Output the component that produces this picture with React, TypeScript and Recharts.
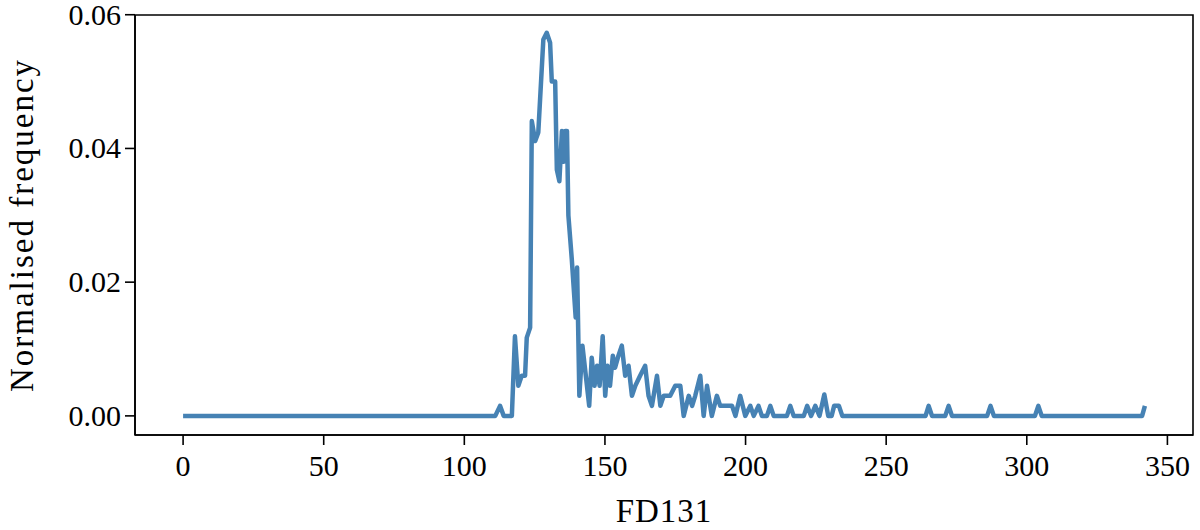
import React from "react";
import {
  LineChart,
  Line,
  XAxis,
  YAxis,
  ReferenceArea,
} from "recharts";

// FD131 bin positions and normalised frequency
const fdValues = [
  0, 111.0, 112.7, 114.0, 116.9, 118.0, 119.2, 120.4, 121.6, 122.2, 123.4,
  124.0, 125.2, 126.3, 128.1, 129.3, 130.5, 131.1, 132.3, 132.9, 133.8,
  134.7, 135.3, 135.9, 136.5, 137.0, 138.2, 139.6, 140.1, 140.9, 142.0,
  143.2, 144.4, 145.3, 146.3, 147.2, 148.1, 149.2, 150.1, 150.9, 151.8,
  152.8, 153.6, 154.8, 156.0, 157.2, 158.4, 159.6, 160.8, 162.5, 164.3,
  165.5, 166.7, 168.5, 169.7, 170.9, 173.2, 175.0, 176.8, 178.0, 179.8,
  181.0, 182.1, 183.9, 185.1, 186.3, 188.0, 189.8, 191.0, 192.8, 195.2,
  196.4, 198.1, 199.9, 201.7, 202.9, 204.6, 205.8, 207.6, 208.8, 210.0,
  214.7, 215.9, 217.1, 220.7, 221.9, 223.3, 224.8, 226.3, 228.0, 229.4,
  230.6, 231.5, 233.2, 234.4, 264.0, 265.1, 266.3, 271.0, 272.2, 273.4,
  285.9, 287.1, 288.3, 302.9, 304.1, 305.3, 341.0, 342.0,
];

const freqValues = [
  0, 0, 0.0015, 0, 0, 0.0119, 0.0045, 0.006, 0.006, 0.0117, 0.0132,
  0.0441, 0.0411, 0.0424, 0.0563, 0.0573, 0.0558, 0.05, 0.05, 0.0368, 0.0351,
  0.0426, 0.038, 0.0426, 0.0426, 0.03, 0.0235, 0.0147, 0.0222, 0.003, 0.0105,
  0.006, 0.0015, 0.0087, 0.0045, 0.0075, 0.0045, 0.0119, 0.003, 0.0075, 0.0045,
  0.009, 0.0072, 0.009, 0.0105, 0.006, 0.0075, 0.003, 0.0045, 0.006, 0.0075,
  0.003, 0.0015, 0.006, 0.0015, 0.003, 0.003, 0.0045, 0.0045, 0, 0.003,
  0.0015, 0.003, 0.006, 0, 0.0045, 0, 0.003, 0.0015, 0.0015, 0.0015,
  0, 0.003, 0, 0.0015, 0, 0.0015, 0, 0, 0.0015, 0,
  0, 0.0015, 0, 0, 0.0015, 0, 0.0015, 0, 0.0032, 0,
  0, 0.0015, 0.0015, 0, 0, 0.0015, 0, 0, 0.0015, 0,
  0, 0.0015, 0, 0, 0.0015, 0, 0, 0.0015,
];

const xTicks = [0, 50, 100, 150, 200, 250, 300, 350];
const yTicks = [0, 0.02, 0.04, 0.06];

const X_DOMAIN: [number, number] = [-17.1, 359.1];
const Y_DOMAIN: [number, number] = [-0.00286, 0.05996];

const FONT = "'Liberation Serif', 'DejaVu Serif', serif";

const data = fdValues.map((fd, i) => ({ fd, freq: freqValues[i] }));

const XTick = (props: any) => {
  const { x, y, payload } = props;
  return (
    <text
      x={x}
      y={y}
      dy={31}
      textAnchor="middle"
      fontFamily={FONT}
      fontSize={30}
      fill="#000"
    >
      {payload.value}
    </text>
  );
};

const YTick = (props: any) => {
  const { x, y, payload } = props;
  return (
    <text
      x={x}
      y={y}
      dx={-4}
      dy={10}
      textAnchor="end"
      fontFamily={FONT}
      fontSize={30}
      fill="#000"
    >
      {Number(payload.value).toFixed(2)}
    </text>
  );
};

const YLabel = () => (
  <text
    x={22}
    y={225}
    transform="rotate(-90 22 225)"
    textAnchor="middle"
    dominantBaseline="central"
    fontFamily={FONT}
    fontSize={33}
    letterSpacing={2}
    fill="#000"
  >
    Normalised frequency
  </text>
);

export default function App() {
  return (
    <div style={{ position: "absolute", left: 0, top: 0, width: 1200, height: 530, background: "#fff" }}>
      <LineChart
        width={1200}
        height={530}
        data={data}
        margin={{ top: 15, right: 7, bottom: 0, left: 0 }}
      >
        <XAxis
          dataKey="fd"
          type="number"
          domain={X_DOMAIN}
          ticks={xTicks}
          allowDataOverflow
          height={95}
          tickSize={10}
          tickMargin={0}
          tick={<XTick />}
          axisLine={{ stroke: "#000", strokeWidth: 1.6 }}
          tickLine={{ stroke: "#000", strokeWidth: 1.6 }}
          label={{
            value: "FD131",
            position: "insideBottom",
            offset: 8,
            style: { fontFamily: FONT, fontSize: 33, fill: "#000", letterSpacing: 1 },
          }}
        />
        <YAxis
          type="number"
          domain={Y_DOMAIN}
          ticks={yTicks}
          allowDataOverflow
          width={135}
          tickSize={10}
          tickMargin={0}
          tick={<YTick />}
          axisLine={{ stroke: "#000", strokeWidth: 1.6 }}
          tickLine={{ stroke: "#000", strokeWidth: 1.6 }}
          label={<YLabel />}
        />
        <Line
          type="linear"
          dataKey="freq"
          stroke="#4682b4"
          strokeWidth={4.5}
          strokeLinejoin="round"
          dot={false}
          isAnimationActive={false}
        />
        <ReferenceArea
          x1={X_DOMAIN[0]}
          x2={X_DOMAIN[1]}
          y1={Y_DOMAIN[0]}
          y2={Y_DOMAIN[1]}
          fill="none"
          stroke="#000"
          strokeWidth={1.6}
          ifOverflow="visible"
        />
      </LineChart>
    </div>
  );
}
